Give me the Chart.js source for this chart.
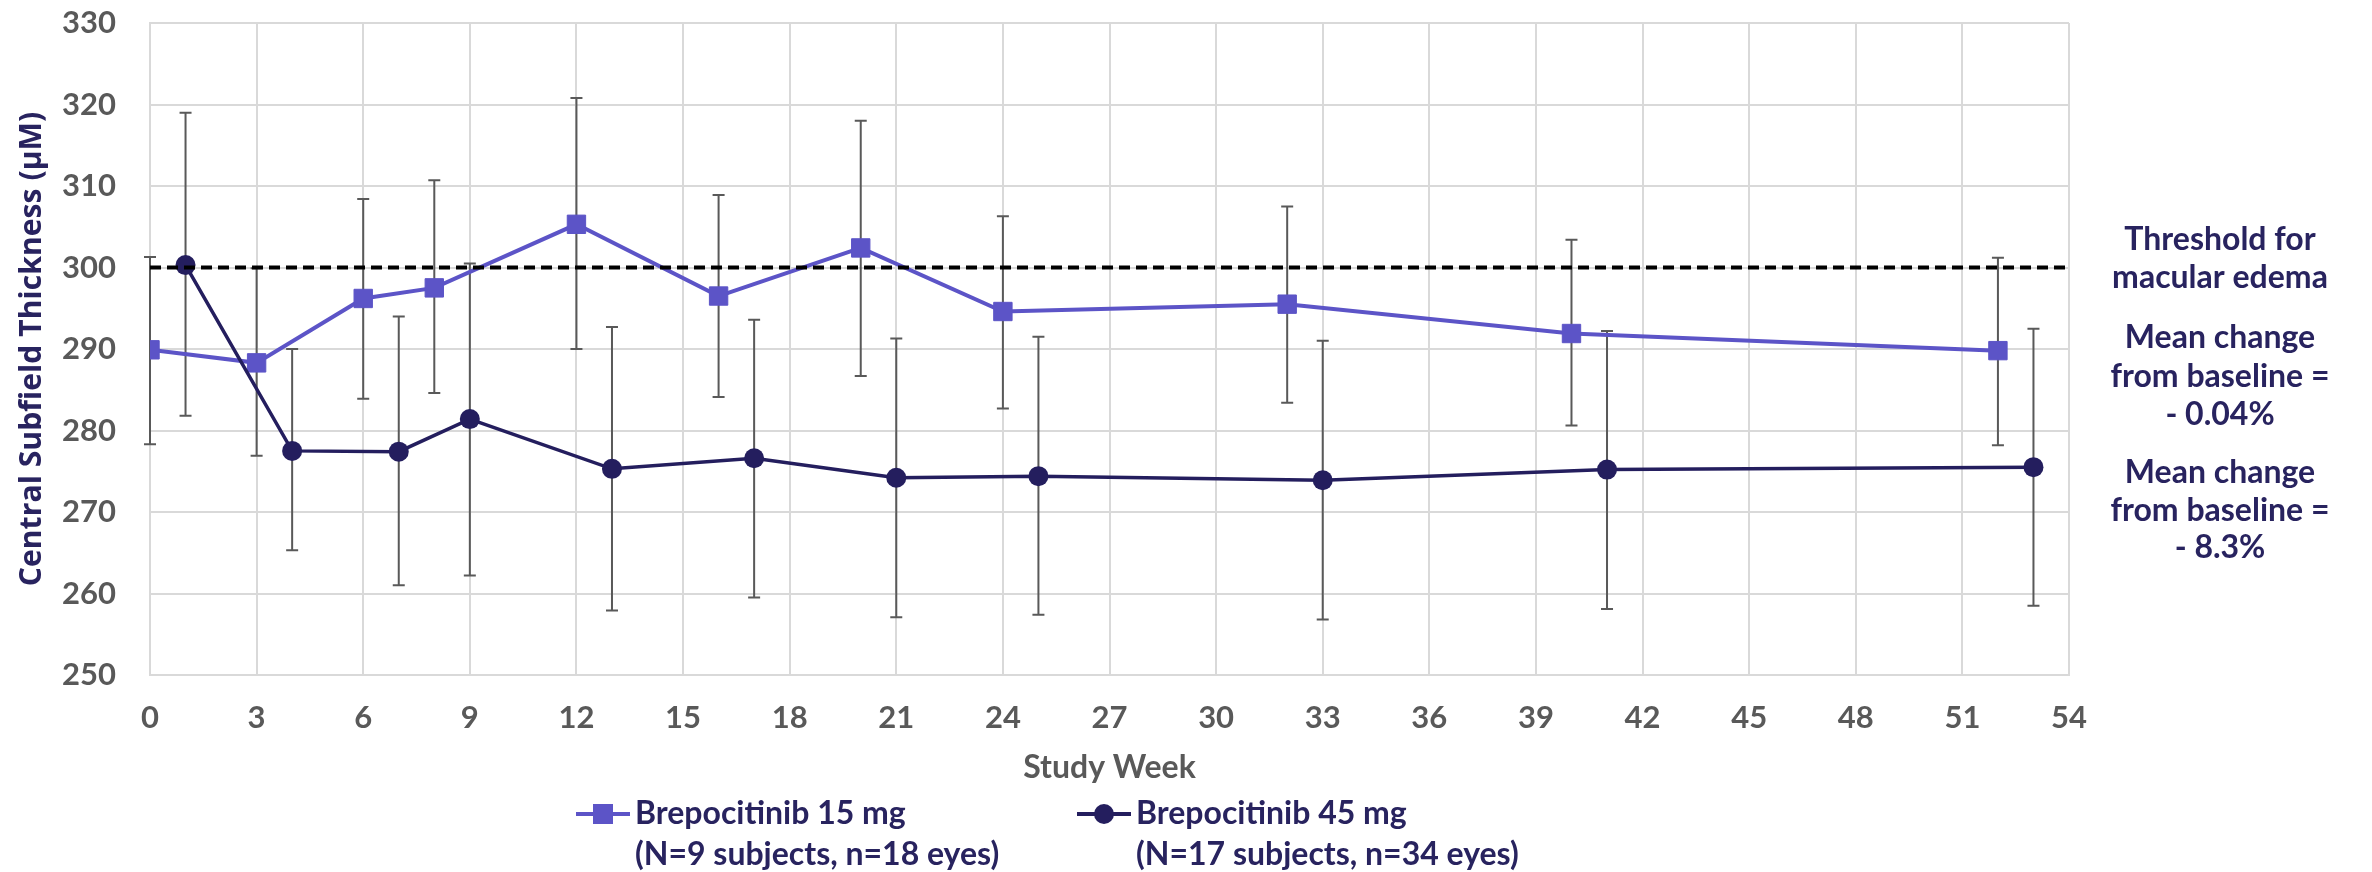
<!doctype html>
<html lang="en">
<head>
<meta charset="utf-8" />
<title>Central Subfield Thickness by Study Week</title>
<script src="https://cdn.jsdelivr.net/npm/chart.js"></script>
<style>
  html, body { margin: 0; padding: 0; background: #fff; }
  #wrap { width: 2372px; height: 872px; }
</style>
</head>
<body>
<div id="wrap"><canvas id="cstChart" width="2372" height="872"></canvas></div>
<script>
// 15 mg arm
const weeks15 = [0, 3, 6, 8, 12, 16, 20, 24, 32, 40, 52];
const mean15 = [289.9, 288.3, 296.2, 297.5, 305.3, 296.5, 302.4, 294.6, 295.5, 291.9, 289.8];
const upper15 = [301.3, 299.9, 308.4, 310.7, 320.8, 308.9, 318.0, 306.3, 307.5, 303.4, 301.2];
const lower15 = [278.3, 276.9, 283.9, 284.6, 290.0, 284.1, 286.7, 282.7, 283.4, 280.6, 278.2];

// 45 mg arm (plotted one week to the right)
const weeks45 = [1, 4, 7, 9, 13, 17, 21, 25, 33, 41, 53];
const mean45 = [300.3, 277.5, 277.4, 281.4, 275.3, 276.6, 274.2, 274.4, 273.9, 275.2, 275.5];
const upper45 = [319.0, 290.0, 294.0, 300.5, 292.7, 293.6, 291.3, 291.5, 291.0, 292.2, 292.5];
const lower45 = [281.8, 265.3, 261.0, 262.2, 257.9, 259.5, 257.1, 257.4, 256.8, 258.1, 258.5];

const thresholdValue = 300;
const thresholdWeeks = [0, 54];

const legendLabels = [
  ['Brepocitinib 15 mg', '(N=9 subjects, n=18 eyes)'],
  ['Brepocitinib 45 mg', '(N=17 subjects, n=34 eyes)']
];
const noteThreshold = ['Threshold for', 'macular edema'];
const note15 = ['Mean change', 'from baseline =', '- 0.04%'];
const note45 = ['Mean change', 'from baseline =', '- 8.3%'];

const PURPLE = '#5c54c7';
const NAVY = '#241e5e';
const TEXT_NAVY = '#28235f';
const GREY = '#595959';
const FONT = 'Lato, "Open Sans", sans-serif';

const toPoints = (xs, ys) => xs.map((x, i) => ({ x: x, y: ys[i] }));

// error bars drawn under the markers, positioned with the chart scales
const errorBars = {
  id: 'errorBars',
  beforeDatasetsDraw(chart) {
    const { ctx, scales: { x, y } } = chart;
    ctx.save();
    ctx.strokeStyle = GREY;
    ctx.lineWidth = 2;
    chart.data.datasets.forEach(ds => {
      if (!ds.errHigh) return;
      ds.data.forEach((pt, i) => {
        const px = x.getPixelForValue(pt.x);
        const top = y.getPixelForValue(ds.errHigh[i]);
        const bot = y.getPixelForValue(ds.errLow[i]);
        ctx.beginPath();
        ctx.moveTo(px, top); ctx.lineTo(px, bot);
        ctx.moveTo(px - 6, top); ctx.lineTo(px + 6, top);
        ctx.moveTo(px - 6, bot); ctx.lineTo(px + 6, bot);
        ctx.stroke();
      });
    });
    ctx.restore();
  }
};

// axis titles, legend and side notes
const extraText = {
  id: 'extraText',
  afterDraw(chart) {
    const { ctx, chartArea } = chart;
    ctx.save();
    ctx.textBaseline = 'middle';

    // y title, sized so it runs roughly from 112px to 587px like the original
    const yTitle = 'Central Subfield Thickness (\u00b5M)';
    ctx.save();
    ctx.font = 'bold 28px "Open Sans", Lato, sans-serif';
    const size = Math.min(32, 28 * 475 / ctx.measureText(yTitle).width);
    ctx.font = 'bold ' + size.toFixed(1) + 'px "Open Sans", Lato, sans-serif';
    ctx.translate(32, (chartArea.top + chartArea.bottom) / 2);
    ctx.rotate(-Math.PI / 2);
    ctx.textAlign = 'center';
    ctx.fillStyle = TEXT_NAVY;
    ctx.fillText(yTitle, 0, 0);
    ctx.restore();

    // x title
    ctx.textAlign = 'center';
    ctx.fillStyle = GREY;
    ctx.font = 'bold 32px ' + FONT;
    ctx.fillText('Study Week', (chartArea.left + chartArea.right) / 2, 768);

    // legend
    const items = [
      { x: 576, color: PURPLE, style: 'rect' },
      { x: 1077, color: NAVY, style: 'circle' }
    ];
    ctx.font = 'bold 32px ' + FONT;
    items.forEach((it, i) => {
      ctx.strokeStyle = it.color;
      ctx.lineWidth = 4;
      ctx.beginPath();
      ctx.moveTo(it.x, 814); ctx.lineTo(it.x + 54, 814);
      ctx.stroke();
      ctx.fillStyle = it.color;
      if (it.style === 'rect') {
        ctx.fillRect(it.x + 17, 804, 20, 20);
      } else {
        ctx.beginPath();
        ctx.arc(it.x + 27, 814, 10, 0, Math.PI * 2);
        ctx.fill();
      }
      ctx.fillStyle = TEXT_NAVY;
      ctx.textAlign = 'left';
      ctx.fillText(legendLabels[i][0], it.x + 59, 814);
      ctx.fillText(legendLabels[i][1], it.x + 59, 855);
    });

    // notes on the right
    ctx.textAlign = 'center';
    ctx.fillStyle = TEXT_NAVY;
    const cx = 2220;
    noteThreshold.forEach((t, i) => ctx.fillText(t, cx, 240 + i * 38));
    note15.forEach((t, i) => ctx.fillText(t, cx, 338 + i * 38.5));
    note45.forEach((t, i) => ctx.fillText(t, cx, 473 + i * 37.5));
    ctx.restore();
  }
};

new Chart(document.getElementById('cstChart'), {
  type: 'line',
  data: {
    datasets: [
      {
        label: 'Brepocitinib 45 mg',
        data: toPoints(weeks45, mean45),
        errHigh: upper45,
        errLow: lower45,
        borderColor: NAVY,
        backgroundColor: NAVY,
        borderWidth: 3.5,
        pointStyle: 'circle',
        pointRadius: 10,
        pointBorderWidth: 0,
        pointHoverRadius: 10,
        tension: 0
      },
      {
        label: 'Brepocitinib 15 mg',
        data: toPoints(weeks15, mean15),
        errHigh: upper15,
        errLow: lower15,
        borderColor: PURPLE,
        backgroundColor: PURPLE,
        borderWidth: 4,
        pointStyle: 'rect',
        pointRadius: 13,
        pointBorderWidth: 1,
        pointHoverRadius: 13,
        tension: 0
      },
      {
        label: 'Threshold',
        data: thresholdWeeks.map(w => ({ x: w, y: thresholdValue })),
        borderColor: '#000000',
        borderWidth: 4,
        borderDash: [11, 6],
        pointRadius: 0,
        order: -1
      }
    ]
  },
  options: {
    responsive: false,
    animation: false,
    events: [],
    layout: { padding: { top: 23, left: 0, right: 303, bottom: 137 } },
    plugins: {
      legend: { display: false },
      tooltip: { enabled: false }
    },
    scales: {
      x: {
        type: 'linear',
        min: 0,
        max: 54,
        afterFit: s => { s.height = 60; s.paddingLeft = 0; s.paddingRight = 0; },
        ticks: {
          stepSize: 3,
          padding: 24,
          color: GREY,
          font: { family: FONT, size: 31, weight: 'bold' }
        },
        grid: { color: '#d9d9d9', lineWidth: 2, drawTicks: false },
        border: { color: '#d9d9d9', width: 2 }
      },
      y: {
        min: 250,
        max: 330,
        afterFit: s => { s.width = 150; s.paddingTop = 0; s.paddingBottom = 0; },
        ticks: {
          stepSize: 10,
          padding: 34,
          color: GREY,
          font: { family: FONT, size: 31, weight: 'bold' }
        },
        grid: { color: '#d9d9d9', lineWidth: 2, drawTicks: false },
        border: { color: '#d9d9d9', width: 2 }
      }
    }
  },
  plugins: [errorBars, extraText]
});
</script>
</body>
</html>
